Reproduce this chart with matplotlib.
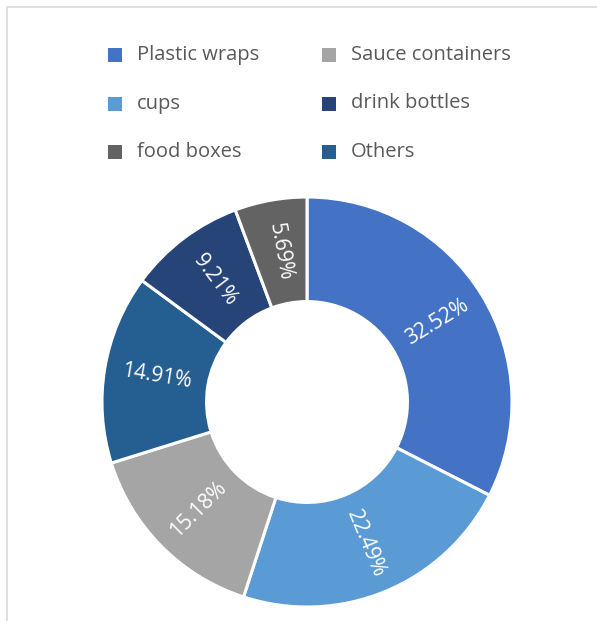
import numpy as np
import matplotlib
matplotlib.use('Agg')
import matplotlib.pyplot as plt
from matplotlib.patches import Rectangle

# share of each item, clockwise from 12 o'clock
categories = ['Plastic wraps', 'cups', 'Sauce containers', 'Others', 'drink bottles', 'food boxes']
shares = [32.52, 22.49, 15.18, 14.91, 9.21, 5.69]
colors = ['#4472C4', '#5B9BD5', '#A5A5A5', '#255E91', '#264478', '#636363']

# legend reads down the left column, then the right one
legend_order = ['Plastic wraps', 'cups', 'food boxes', 'Sauce containers', 'drink bottles', 'Others']

W, H = 597, 621
plt.rcParams['font.family'] = ['Open Sans', 'DejaVu Sans']

fig = plt.figure(figsize=(W / 100, H / 100), dpi=100)
fig.patch.set_facecolor('white')

# thin frame along top and left
fig.add_artist(Rectangle((7 / W, -0.1), 1.2, (H - 7) / H + 0.1, transform=fig.transFigure,
                         fill=False, edgecolor='#D9D9D9', linewidth=1.2))

cx, cy, R = 307, 402, 205
ax = fig.add_axes([(cx - R) / W, (H - cy - R) / H, 2 * R / W, 2 * R / H])

ring = 0.51
wedges, _ = ax.pie(shares, colors=colors, startangle=90, counterclock=False, radius=1,
                   wedgeprops=dict(width=ring, edgecolor='white', linewidth=2.2))
ax.set_xlim(-1, 1)
ax.set_ylim(-1, 1)
ax.axis('off')

r_lab = 1 - ring / 2
for w, v in zip(wedges, shares):
    mid = (w.theta1 + w.theta2) / 2
    rad = np.deg2rad(mid)
    rot = mid % 360
    if 90 < rot < 270:
        rot -= 180
    ax.text(r_lab * np.cos(rad), r_lab * np.sin(rad), f'{v:.2f}%', color='white',
            fontsize=15, ha='center', va='center', rotation=rot, rotation_mode='anchor')

# legend: square swatch + label
color_of = dict(zip(categories, colors))
for i, name in enumerate(legend_order):
    col, row = divmod(i, 3)
    x0 = 108 + 214 * col
    y0 = 55 + 48.5 * row
    s = 14
    fig.add_artist(Rectangle((x0 / W, (H - y0 - s / 2) / H), s / W, s / H,
                             transform=fig.transFigure, facecolor=color_of[name], edgecolor='none'))
    fig.text((x0 + 29) / W, (H - y0) / H, name, color='#595959', fontsize=14.5,
             ha='left', va='center')

fig.savefig('out.png', dpi=100, facecolor='white')
